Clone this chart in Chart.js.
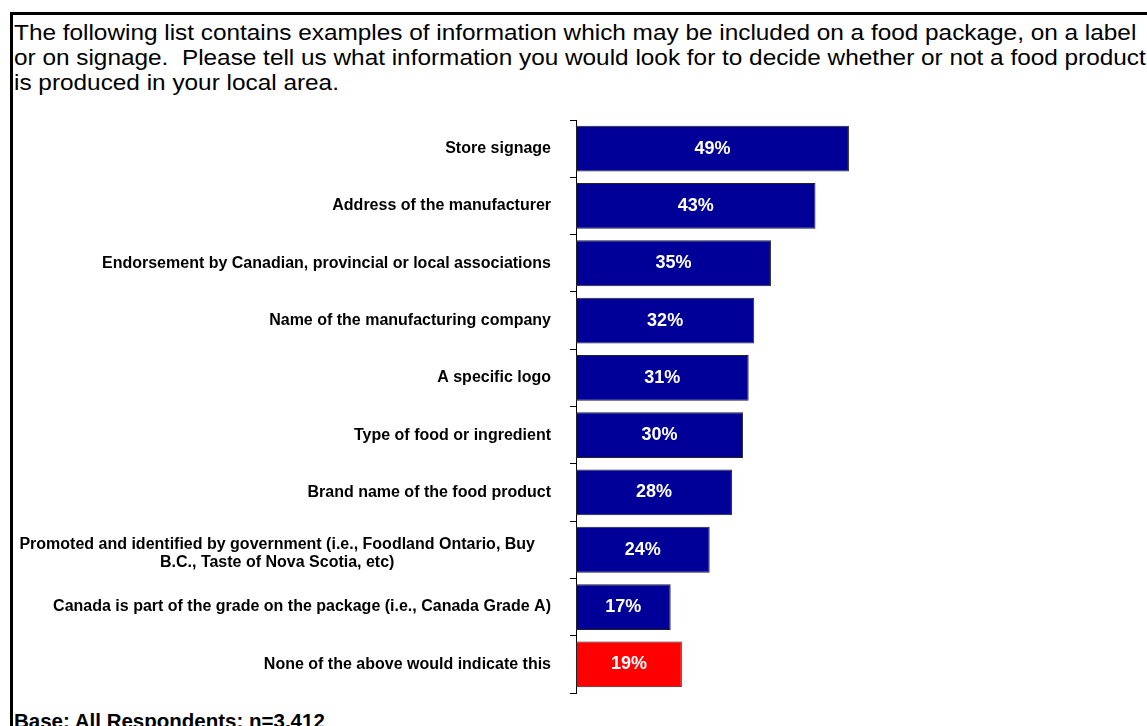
<!DOCTYPE html>
<html>
<head>
<meta charset="utf-8">
<script src="https://cdn.jsdelivr.net/npm/chart.js@4"></script>
<style>
  html, body { margin: 0; padding: 0; background: #fff; }
  body { width: 1147px; height: 726px; position: relative; overflow: hidden; font-family: "Liberation Sans", Arial, sans-serif; }
  .frame-top { position: absolute; left: 10px; top: 12px; width: 1140px; height: 3px; background: #000; }
  .frame-left { position: absolute; left: 10px; top: 12px; width: 3px; height: 720px; background: #000; }
  .question { position: absolute; left: 14px; top: 20px; font-size: 22px; line-height: 25px; color: #000; white-space: nowrap; transform: scaleX(1.107); transform-origin: 0 0; }
  .base { position: absolute; left: 14px; top: 711px; font-size: 20.5px; line-height: 20px; font-weight: bold; color: #000; white-space: nowrap; }
  #chart { position: absolute; left: 0; top: 0; }
</style>
</head>
<body>
<div class="frame-top"></div>
<div class="frame-left"></div>
<div class="question">The following list contains examples of information which may be included on a food package, on a label<br>or on signage.&nbsp; Please tell us what information you would look for to decide whether or not a food product<br>is produced in your local area.</div>
<div class="base">Base: All Respondents: n=3,412</div>
<canvas id="chart" width="1147" height="726"></canvas>
<script>
// categorias e valores
const labels = [
    'Store signage',
    'Address of the manufacturer',
    'Endorsement by Canadian, provincial or local associations',
    'Name of the manufacturing company',
    'A specific logo',
    'Type of food or ingredient',
    'Brand name of the food product',
    ['Promoted and identified by government (i.e., Foodland Ontario, Buy', 'B.C., Taste of Nova Scotia, etc)'],
    'Canada is part of the grade on the package (i.e., Canada Grade A)',
    'None of the above would indicate this'
];
const percents = [49, 43, 35, 32, 31, 30, 28, 24, 17, 19];
const barColors = ['#000099', '#000099', '#000099', '#000099', '#000099', '#000099', '#000099', '#000099', '#000099', '#FF0000'];

const FONT = '"Liberation Sans", Arial, sans-serif';

// desenha os rótulos das categorias à esquerda do eixo
const categoryLabels = {
    id: 'categoryLabels',
    afterDraw(chart) {
        const ctx = chart.ctx;
        const y = chart.scales.y;
        const right = 551;
        ctx.save();
        ctx.fillStyle = '#000';
        ctx.font = 'bold 16px ' + FONT;
        ctx.textBaseline = 'middle';
        labels.forEach((lab, i) => {
            const cy = y.getPixelForValue(i);
            if (Array.isArray(lab)) {
                const w = Math.max(...lab.map(l => ctx.measureText(l).width));
                ctx.textAlign = 'center';
                const lh = 18;
                lab.forEach((l, k) => {
                    ctx.fillText(l, right - 16 - w / 2, cy + 4 + (k - (lab.length - 1) / 2) * lh);
                });
            } else {
                ctx.textAlign = 'right';
                ctx.fillText(lab, right, cy);
            }
        });
        ctx.restore();
    }
};

// valores dentro das barras
const barValues = {
    id: 'barValues',
    afterDatasetsDraw(chart) {
        const ctx = chart.ctx;
        const meta = chart.getDatasetMeta(0);
        ctx.save();
        ctx.fillStyle = '#fff';
        ctx.font = 'bold 18px ' + FONT;
        ctx.textAlign = 'center';
        ctx.textBaseline = 'middle';
        meta.data.forEach((bar, i) => {
            ctx.fillText(percents[i] + '%', (bar.base + bar.x) / 2, bar.y);
        });
        ctx.restore();
    }
};

function createChart() {
    const ctx = document.getElementById('chart').getContext('2d');
    new Chart(ctx, {
        type: 'bar',
        data: {
            labels: labels,
            datasets: [{
                data: percents,
                backgroundColor: barColors,
                borderColor: '#222',
                borderWidth: 1,
                borderSkipped: false,
                barPercentage: 0.8,
                categoryPercentage: 1
            }]
        },
        options: {
            indexAxis: 'y',
            responsive: false,
            animation: false,
            layout: { padding: { top: 120, bottom: 33, right: 14, left: 0 } },
            plugins: {
                legend: { display: false },
                tooltip: { enabled: false }
            },
            scales: {
                x: { display: false, min: 0, max: 100 },
                y: {
                    afterFit(scale) { scale.width = 576; },
                    grid: { drawOnChartArea: false, drawTicks: true, tickLength: 6, color: '#000', lineWidth: 1 },
                    border: { display: true, color: '#000', width: 1 },
                    ticks: { color: 'rgba(0,0,0,0)', font: { size: 8 } }
                }
            }
        },
        plugins: [categoryLabels, barValues]
    });
}

window.onload = function () {
    createChart();
};
</script>
</body>
</html>
